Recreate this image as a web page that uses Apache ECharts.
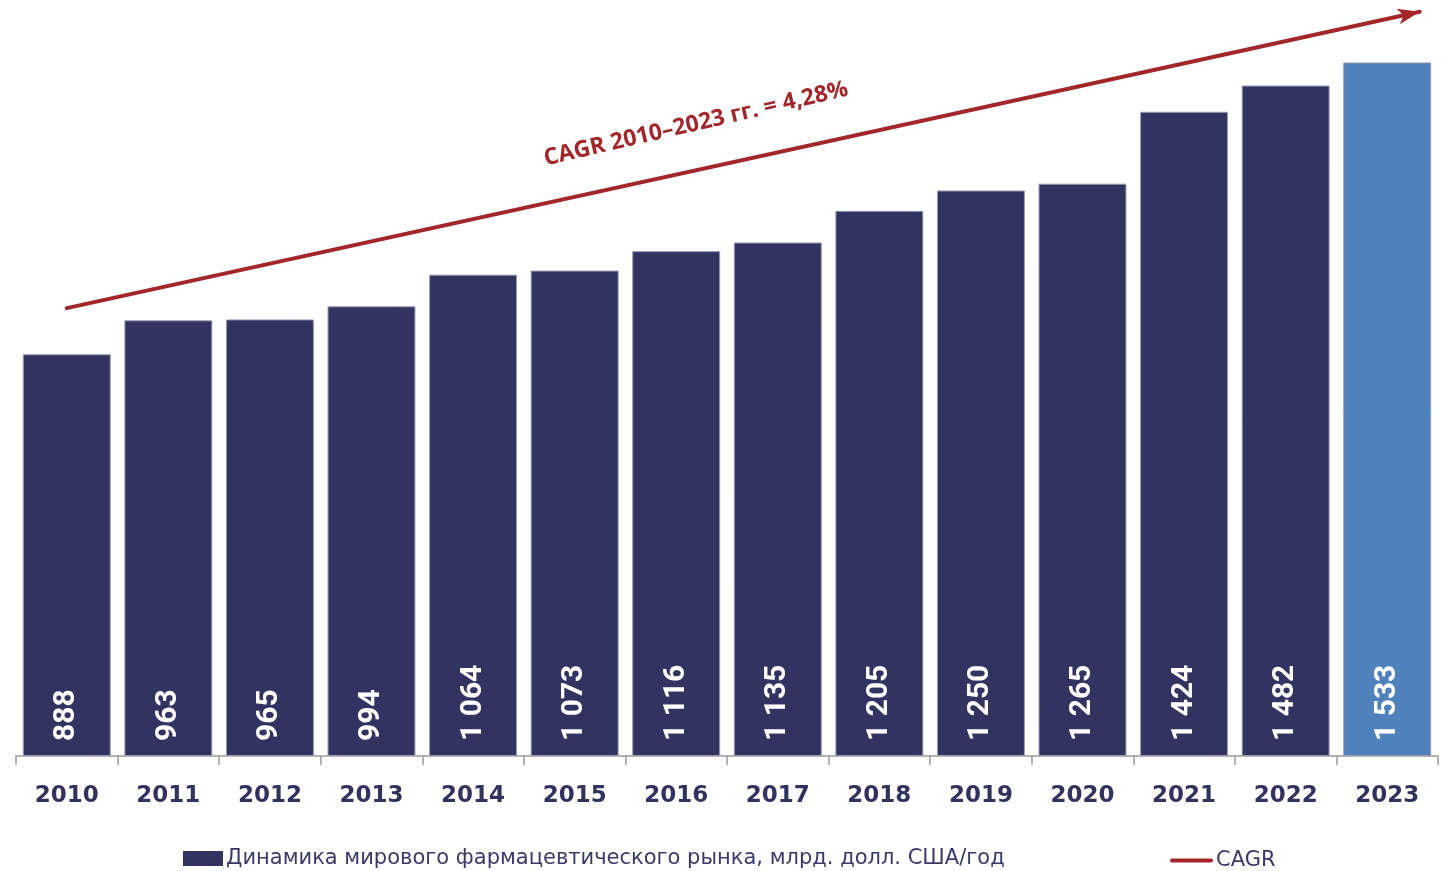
<!DOCTYPE html>
<html>
<head>
<meta charset="utf-8">
<script src="https://cdn.jsdelivr.net/npm/echarts@6/dist/echarts.min.js"></script>
<style>
  html, body { margin: 0; padding: 0; background: #ffffff; }
  #chart { width: 1445px; height: 871px; }
</style>
</head>
<body>
<div id="chart"></div>
<script>
// Years and market size, bln USD per year
const years = ['2010', '2011', '2012', '2013', '2014', '2015', '2016',
               '2017', '2018', '2019', '2020', '2021', '2022', '2023'];
const marketValues = [888, 963, 965, 994, 1064, 1073, 1116,
                      1135, 1205, 1250, 1265, 1424, 1482, 1533];

// CAGR trend arrow: positions on a category-index scale and values
const cagrX = [0.0, 13.32];
const cagrY = [990, 1645];

const barName = 'Динамика мирового фармацевтического рынка, млрд. долл. США/год';
const lineName = 'CAGR';
const cagrText = 'CAGR 2010–2023 гг. = 4,28%';

const NAVY = '#333361';
const BLUE = '#4f81bd';
const RED = '#a3262b';
const TEXT = '#32325f';

function fmt(v) {
  return String(v).replace(/\B(?=(\d{3})+(?!\d))/g, ' ');
}

const chart = echarts.init(document.getElementById('chart'), null, { renderer: 'canvas' });

chart.setOption({
  animation: false,
  backgroundColor: '#ffffff',
  grid: { left: 16, right: 7, top: 5, bottom: 115, containLabel: false },
  legend: [
    {
      data: [{ name: barName, icon: 'rect' }],
      left: 178, top: 843,
      itemWidth: 40, itemHeight: 15, itemGap: 0,
      selectedMode: false,
      itemStyle: { borderWidth: 0 },
      textStyle: { fontFamily: 'DejaVu Sans', fontSize: 21, color: '#3a3a6a', padding: [0, 0, 0, -2] }
    },
    {
      data: [{ name: lineName, icon: 'path://M2,0 L42,0 A2,2 0 0 1 42,4 L2,4 A2,2 0 0 1 2,0 Z' }],
      left: 1165, top: 845,
      itemWidth: 43, itemHeight: 5, itemGap: 0,
      selectedMode: false,
      itemStyle: { borderWidth: 0 },
      textStyle: { fontFamily: 'DejaVu Sans', fontSize: 21, color: '#3a3a6a', padding: [0, 0, 0, -2] }
    }
  ],
  xAxis: [
    {
      type: 'category',
      data: years,
      boundaryGap: true,
      axisLine: { show: true, lineStyle: { color: '#9a9a9a', width: 1.5 } },
      axisTick: { show: true, length: 9, lineStyle: { color: '#9a9a9a', width: 1.5 } },
      axisLabel: {
        margin: 29,
        fontFamily: 'DejaVu Sans',
        fontWeight: 'bold',
        fontSize: 23,
        color: TEXT
      },
      splitLine: { show: false }
    },
    {
      type: 'value',
      min: -0.5, max: 13.5,
      show: false,
      splitLine: { show: false }
    }
  ],
  yAxis: {
    type: 'value',
    min: 0, max: 1660,
    show: false,
    splitLine: { show: false }
  },
  series: [
    {
      name: barName,
      type: 'bar',
      xAxisIndex: 0,
      barCategoryGap: '13.4%',
      itemStyle: { color: NAVY, borderColor: '#9b9bb3', borderWidth: 1 },
      data: marketValues.map((v, i) => ({
        value: v,
        itemStyle: { color: i === marketValues.length - 1 ? BLUE : NAVY }
      })),
      label: {
        show: true,
        position: 'insideBottom',
        rotate: 90,
        align: 'left',
        verticalAlign: 'middle',
        distance: 15,
        formatter: p => fmt(p.value),
        fontFamily: 'Roboto',
        fontWeight: 'bold',
        fontSize: 30,
        color: '#ffffff'
      }
    },
    {
      name: lineName,
      type: 'line',
      xAxisIndex: 1,
      data: [],
      symbol: 'none',
      itemStyle: { color: RED },
      lineStyle: { color: RED, width: 4 },
      markLine: {
        silent: true,
        symbol: ['none', 'arrow'],
        symbolSize: [12, 22],
        label: { show: false },
        lineStyle: { color: RED, width: 4, type: 'solid', cap: 'round' },
        data: [[
          { coord: [cagrX[0], cagrY[0]] },
          { coord: [cagrX[1], cagrY[1]] }
        ]]
      }
    }
  ],
  graphic: [
    {
      type: 'text',
      x: 696, y: 124,
      rotation: 13 * Math.PI / 180,
      style: {
        text: cagrText,
        fill: RED,
        fontFamily: 'Open Sans',
        fontWeight: 'bold',
        fontSize: 23,
        textAlign: 'center',
        textVerticalAlign: 'middle'
      }
    }
  ]
});
</script>
</body>
</html>
